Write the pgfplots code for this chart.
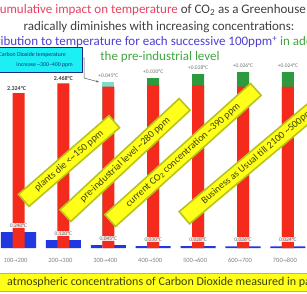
\documentclass[border=0pt]{standalone}
\usepackage{fontspec}
\setmainfont{Carlito}
\newfontfamily\arrowfont{DejaVu Sans}
\newcommand{\arr}{{\arrowfont\fontsize{5}{6}\selectfont →}}
\usepackage{pgfplots}
\pgfplotsset{compat=1.18}
\usetikzlibrary{arrows.meta}
\definecolor{redbar}{HTML}{F42A1C}
\definecolor{bluebar}{HTML}{2038E0}
\definecolor{capgreen}{HTML}{2E9A3E}
\definecolor{capteal}{HTML}{7FDCCB}
\definecolor{titlered}{HTML}{E8425E}
\definecolor{titlegray}{HTML}{404040}
\definecolor{titleblue}{HTML}{4B3FD0}
\definecolor{titlegreen}{HTML}{3FA63F}
\definecolor{bannerfill}{HTML}{FFFF1A}
\definecolor{bannerdraw}{HTML}{B8C41C}
\definecolor{bannertext}{HTML}{3E4200}
\definecolor{boxcyan}{HTML}{1CF0F4}
\definecolor{navyblue}{HTML}{1A2A80}
\definecolor{ticktext}{HTML}{808080}
\begin{document}
\begin{tikzpicture}
\begin{axis}[
  at={(-3.95pt,45pt)},
  anchor=south west,
  scale only axis,
  width=314.3pt,
  height=200pt,
  xmin=-0.5, xmax=6.5, ymin=0, ymax=3,
  hide y axis,
  axis x line=bottom,
  x axis line style={draw=none},
  major tick length=0pt,
  xtick={0,1,2,3,4,5,6},
  xticklabels={100\arr200,200\arr300,300\arr400,400\arr500,500\arr600,600\arr700,700\arr800},
  xticklabel style={font=\fontsize{6.5}{7}\selectfont, text=ticktext, xshift=-3pt, yshift=-7pt},
  clip=false,
]
\addplot[ybar, bar width=35pt, bar shift=0pt, fill=bluebar, draw=none] coordinates {(0,0.240) (1,0.120) (2,0.045) (3,0.030) (4,0.028) (5,0.026) (6,0.024)};
\addplot[ybar, bar width=12pt, bar shift=0pt, fill=capgreen, draw=none] coordinates {(3,2.55) (4,2.61) (5,2.64) (6,2.64)};
\addplot[ybar, bar width=12pt, bar shift=0pt, fill=capteal, draw=none] coordinates {(2,2.49)};
\addplot[ybar, bar width=12pt, bar shift=0pt, fill=redbar, draw=none] coordinates {(0,2.324) (1,2.468) (2,2.42) (3,2.44) (4,2.44) (5,2.42) (6,2.42)};
\node[anchor=south, yshift=4pt, font=\fontsize{5.5}{6}\selectfont, text=black!60, fill=white, fill opacity=0.85, text opacity=1, inner sep=0.6pt] at (axis cs:0,0.240) {0.240°C};
\node[anchor=south, yshift=4pt, font=\fontsize{5.5}{6}\selectfont, text=black!60, fill=white, fill opacity=0.85, text opacity=1, inner sep=0.6pt] at (axis cs:1,0.120) {0.120°C};
\node[anchor=south, yshift=4pt, font=\fontsize{5.5}{6}\selectfont, text=black!60, fill=white, fill opacity=0.85, text opacity=1, inner sep=0.6pt] at (axis cs:2,0.045) {0.045°C};
\node[anchor=south, yshift=4pt, font=\fontsize{5.5}{6}\selectfont, text=black!60, fill=white, fill opacity=0.85, text opacity=1, inner sep=0.6pt] at (axis cs:3,0.030) {0.030°C};
\node[anchor=south, yshift=4pt, font=\fontsize{5.5}{6}\selectfont, text=black!60, fill=white, fill opacity=0.85, text opacity=1, inner sep=0.6pt] at (axis cs:4,0.028) {0.028°C};
\node[anchor=south, yshift=4pt, font=\fontsize{5.5}{6}\selectfont, text=black!60, fill=white, fill opacity=0.85, text opacity=1, inner sep=0.6pt] at (axis cs:5,0.026) {0.026°C};
\node[anchor=south, yshift=4pt, font=\fontsize{5.5}{6}\selectfont, text=black!60, fill=white, fill opacity=0.85, text opacity=1, inner sep=0.6pt] at (axis cs:6,0.024) {0.024°C};
\node[anchor=south, yshift=2pt, xshift=-2pt, font=\bfseries\fontsize{6}{6}\selectfont, text=black!75, inner sep=0.6pt] at (axis cs:0,2.324) {2.324°C};
\node[anchor=south, yshift=2pt, font=\bfseries\fontsize{6}{6}\selectfont, text=black!75, inner sep=0.6pt] at (axis cs:1,2.468) {2.468°C};
\node[anchor=south, yshift=4pt, font=\fontsize{5.5}{6}\selectfont, text=black!55, inner sep=0.6pt] at (axis cs:2,2.49) {+0.045°C};
\node[anchor=south, yshift=4pt, font=\fontsize{5.5}{6}\selectfont, text=black!55, inner sep=0.6pt] at (axis cs:3,2.55) {+0.030°C};
\node[anchor=south, yshift=4pt, font=\fontsize{5.5}{6}\selectfont, text=black!55, inner sep=0.6pt] at (axis cs:4,2.61) {+0.028°C};
\node[anchor=south, yshift=4pt, font=\fontsize{5.5}{6}\selectfont, text=black!55, inner sep=0.6pt] at (axis cs:5,2.64) {+0.026°C};
\node[anchor=south, yshift=4pt, font=\fontsize{5.5}{6}\selectfont, text=black!55, inner sep=0.6pt] at (axis cs:6,2.64) {+0.024°C};
\end{axis}
\begin{scope}[x=1pt,y=1pt]
\node[font=\fontsize{13}{14}\selectfont] at (150,283) {\textcolor{titlered}{The cumulative impact on temperature} \textcolor{titlegray}{of CO\textsubscript{2} as a Greenhouse Gas}};
\node[font=\fontsize{13}{14}\selectfont, text=titlegray] at (159,266) {radically diminishes with increasing concentrations:};
\node[font=\fontsize{13}{14}\selectfont] at (161,251) {\textcolor{titleblue}{Contribution to temperature for each successive 100ppm\textsuperscript{+}} \textcolor{titlegreen}{in addition to}};
\node[font=\fontsize{13}{14}\selectfont, text=titlegreen] at (160,236) {the pre-industrial level};
\draw[fill=boxcyan, draw=navyblue, line width=0.6pt] (-2,221) rectangle (82,246);
\node[anchor=east, font=\fontsize{5.8}{6}\selectfont, text=navyblue, inner sep=0pt] at (66,238) {incremental Carbon Dioxide temperature};
\node[anchor=east, font=\fontsize{5.8}{6}\selectfont, text=navyblue, inner sep=0pt] at (73,228) {increase \textasciitilde300–400 ppm};
\draw[black!65, line width=0.5pt, -{Stealth[length=3pt]}] (82,235) -- (84,235) -- (84,215) -- (99,211);
\node[fill=bannerfill, draw=bannerdraw, line width=1.6pt, minimum height=16pt, inner sep=0pt, font=\fontsize{10}{10}\selectfont, text=bannertext, rotate=41, minimum width=120pt] at (69,132) {plants die <\textasciitilde150 ppm};
\node[fill=bannerfill, draw=bannerdraw, line width=1.6pt, minimum height=16pt, inner sep=0pt, font=\fontsize{10}{10}\selectfont, text=bannertext, rotate=43, minimum width=163pt] at (125,133) {pre-industrial level \textasciitilde280 ppm};
\node[fill=bannerfill, draw=bannerdraw, line width=1.6pt, minimum height=16pt, inner sep=0pt, font=\fontsize{10}{10}\selectfont, text=bannertext, rotate=42, minimum width=196pt] at (183,138) {current CO\textsubscript{2} concentration \textasciitilde390 ppm};
\node[fill=bannerfill, draw=bannerdraw, line width=1.6pt, minimum height=16pt, inner sep=0pt, font=\fontsize{10}{10}\selectfont, text=bannertext, rotate=40, minimum width=195pt] at (259,138) {Business as Usual till 2100 \textasciitilde500ppm};
\draw[fill=bannerfill, draw=bannerdraw, line width=1pt] (-5,2) rectangle (320,20);
\node[anchor=west, font=\fontsize{12}{12}\selectfont, text=bannertext, inner sep=0pt] at (7,11) {atmospheric concentrations of Carbon Dioxide measured in parts per million (ppm)};
\pgfresetboundingbox
\useasboundingbox (0,0) rectangle (307,293);
\end{scope}
\end{tikzpicture}
\end{document}
